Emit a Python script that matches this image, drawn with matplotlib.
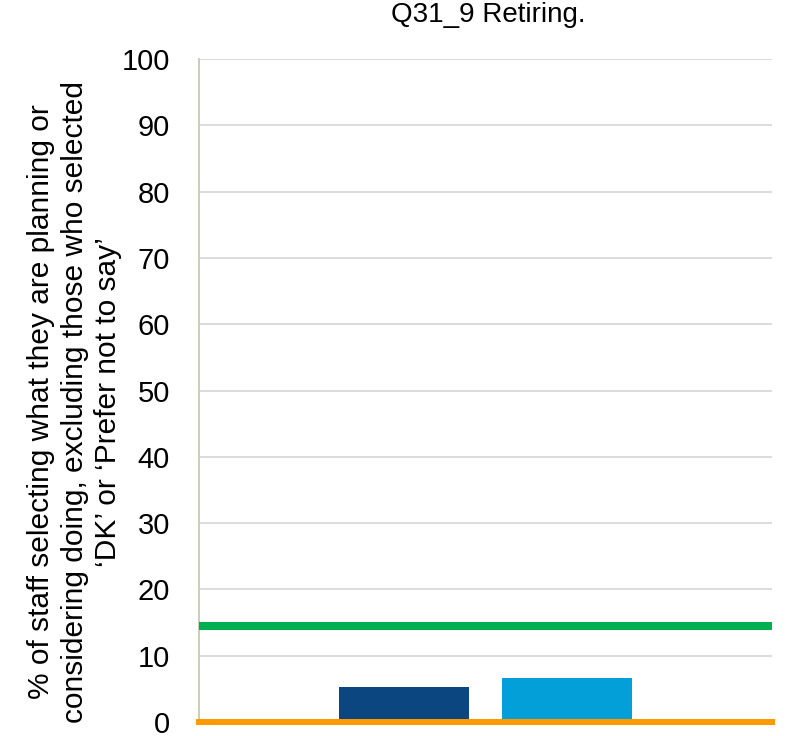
import matplotlib
matplotlib.use("Agg")
import matplotlib.pyplot as plt

plt.rcParams['font.family'] = ['Liberation Sans', 'DejaVu Sans']

# data
title = 'Q31_9 Retiring.'
bar_values = [5.3, 6.7]
bar_colors = ['#0C4680', '#039FD9']
bar_offsets = [-0.1425, 0.1425]
green_level = 14.5
orange_level = 0.0
y_ticks = list(range(0, 101, 10))
y_label = ("% of staff selecting what they are planning or\n"
           "considering doing, excluding those who selected\n"
           "\u2018DK\u2019 or \u2018Prefer not to say\u2019")

fig = plt.figure(figsize=(7.86, 7.36), dpi=100)
ax = fig.add_axes([199 / 786, 1 - 722 / 736, 573 / 786, 663 / 736])

for off, val, col in zip(bar_offsets, bar_values, bar_colors):
    ax.bar(off, val, width=0.227, color=col, zorder=2)

ax.axhline(green_level, xmin=0.004, xmax=0.996, color='#00B050', lw=5.8, zorder=3)
ax.axhline(orange_level, color='#FF9900', lw=4.3, zorder=4, clip_on=False)

ax.set_xlim(-0.5, 0.5)
ax.set_ylim(0, 100)
ax.set_yticks(y_ticks)
ax.set_xticks([])
ax.yaxis.grid(True, color='#D9D9D9', lw=1.3, zorder=0)
ax.set_axisbelow(True)
ax.tick_params(axis='y', length=0, pad=21, labelsize=21)
for s in ['top', 'right', 'bottom']:
    ax.spines[s].set_visible(False)
ax.spines['left'].set_color('#C8C8B4')
ax.spines['left'].set_linewidth(1.3)

fig.text(488 / 786, 1 - 15 / 736, title, ha='center', va='center', fontsize=20)
fig.text(75 / 786, 1 - 402 / 736, y_label, rotation=90, ha='center', va='center',
         fontsize=21.5, multialignment='center', linespacing=1.25)

fig.savefig('out.png', dpi=100)
